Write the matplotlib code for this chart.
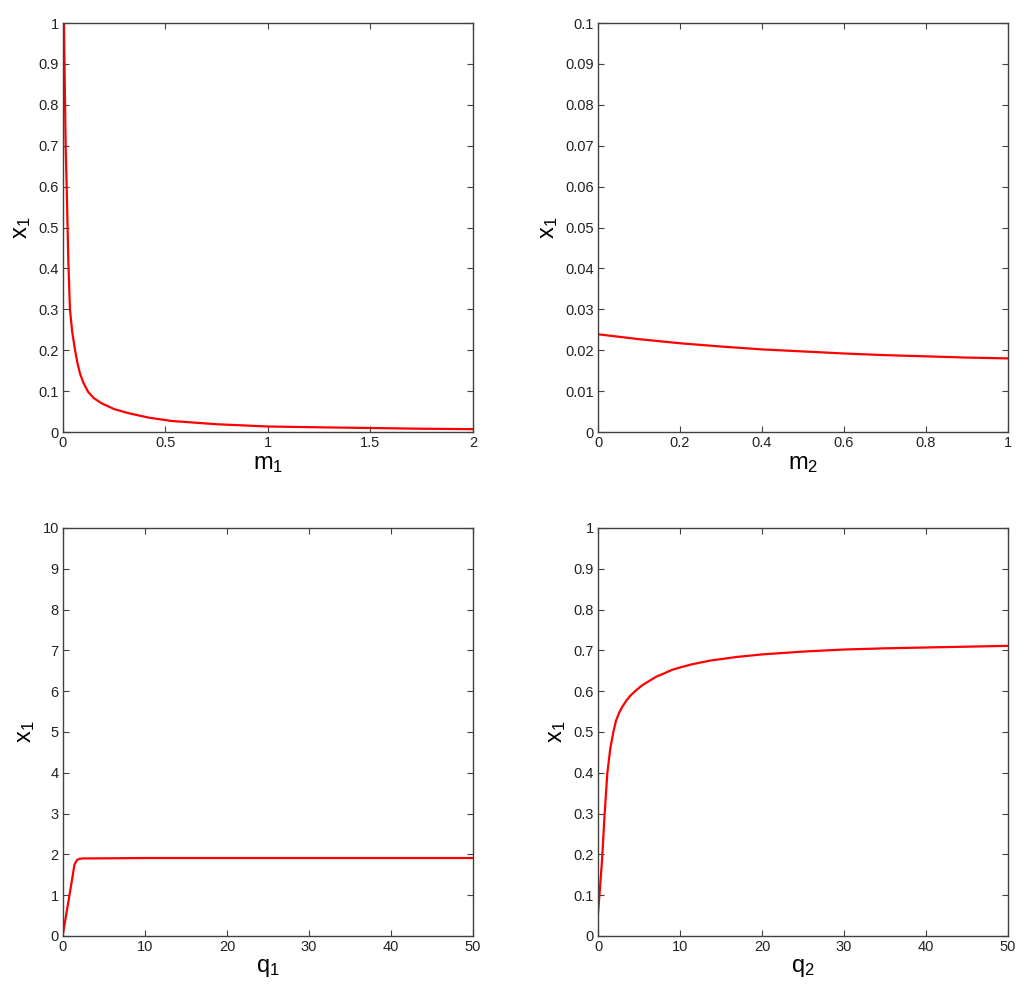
import matplotlib
matplotlib.use("Agg")
import matplotlib.pyplot as plt
from matplotlib.ticker import FuncFormatter

plt.rcParams['font.family'] = ['Liberation Sans', 'DejaVu Sans']
plt.rcParams['mathtext.fontset'] = 'custom'
plt.rcParams['mathtext.rm'] = 'Liberation Sans'
plt.rcParams['mathtext.it'] = 'Liberation Sans'

# x1 vs m1
m1 = [0.005, 0.008, 0.013, 0.018, 0.026, 0.034, 0.045, 0.059, 0.07, 0.083, 0.1,
      0.123, 0.15, 0.189, 0.25, 0.32, 0.42, 0.53, 0.75, 1.0, 1.25, 1.5, 1.75, 2.0]
x1_m1 = [1.0, 0.88, 0.7, 0.6, 0.42, 0.3, 0.245, 0.2, 0.17, 0.143, 0.12,
         0.098, 0.083, 0.07, 0.056, 0.046, 0.035, 0.027, 0.019, 0.0135, 0.0115, 0.0098, 0.008, 0.007]

# x1 vs m2
m2 = [0.0, 0.1, 0.2, 0.3, 0.4, 0.5, 0.6, 0.7, 0.8, 0.9, 1.0]
x1_m2 = [0.0239, 0.0227, 0.0217, 0.0209, 0.0202, 0.0197, 0.0192, 0.0188, 0.0185, 0.0182, 0.0180]

# x1 vs q1
q1 = [0.0, 0.5, 1.0, 1.4, 1.7, 2.0, 2.5, 3.0, 10.0, 50.0]
x1_q1 = [0.05, 0.65, 1.25, 1.75, 1.86, 1.89, 1.9, 1.9, 1.91, 1.91]

# x1 vs q2
q2 = [0.0, 0.25, 0.49, 0.81, 1.14, 1.5, 1.87, 2.2, 2.6, 3.0, 3.5, 4.0, 4.7, 5.3, 6.0,
      7.15, 8.0, 9.0, 10.0, 11.5, 13.7, 17.0, 20.0, 25.0, 30.0, 35.0, 40.0, 45.0, 50.0]
x1_q2 = [0.056, 0.12, 0.186, 0.30, 0.40, 0.46, 0.50, 0.528, 0.548, 0.563, 0.578, 0.59, 0.603, 0.613, 0.622,
         0.636, 0.643, 0.652, 0.658, 0.666, 0.675, 0.684, 0.69, 0.697, 0.702, 0.705, 0.707, 0.709, 0.711]

panels = [
    (m1, x1_m1, 'm', [0, 2], [0, 1], [0, 0.5, 1, 1.5, 2], [i / 10 for i in range(11)]),
    (m2, x1_m2, 'm', [0, 1], [0, 0.1], [0, 0.2, 0.4, 0.6, 0.8, 1], [i / 100 for i in range(11)]),
    (q1, x1_q1, 'q', [0, 50], [0, 10], [0, 10, 20, 30, 40, 50], list(range(11))),
    (q2, x1_q2, 'q', [0, 50], [0, 1], [0, 10, 20, 30, 40, 50], [i / 10 for i in range(11)]),
]
subs = ['1', '2', '1', '2']
rects = [
    [0.0615, 0.5645, 0.4004, 0.4123],
    [0.584, 0.5645, 0.4004, 0.4123],
    [0.0615, 0.0565, 0.4004, 0.4113],
    [0.584, 0.0565, 0.4004, 0.4113],
]

fig = plt.figure(figsize=(10.24, 9.92), dpi=100)
fmt = FuncFormatter(lambda v, p: ('%g' % round(v, 6)))

for (xs, ys, name, xl, yl, xt, yt), sub, r in zip(panels, subs, rects):
    ax = fig.add_axes(r)
    ax.plot(xs, ys, color='#ff0000', linewidth=1.6)
    ax.set_xlim(xl)
    ax.set_ylim(yl)
    ax.set_xticks(xt)
    ax.set_yticks(yt)
    ax.xaxis.set_major_formatter(fmt)
    ax.yaxis.set_major_formatter(fmt)
    ax.tick_params(direction='in', length=4, width=0.8, color='#404040',
                   labelsize=10.5, top=True, right=True, pad=3, labelcolor='#222222')
    for s in ax.spines.values():
        s.set_color('#404040')
        s.set_linewidth(1.0)
    ax.set_xlabel(name + '$_{' + sub + '}$', fontsize=17, labelpad=2)
    ax.set_ylabel('x$_1$', fontsize=17, labelpad=4)

fig.savefig('out.png', dpi=100, facecolor='white')
